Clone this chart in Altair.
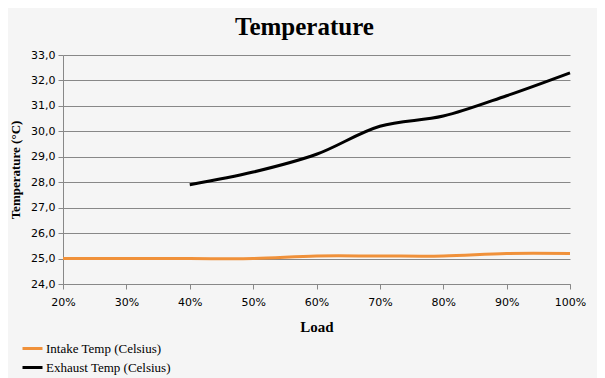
import altair as alt
import pandas as pd

loads = [20, 30, 40, 50, 60, 70, 80, 90, 100]
intake = [25.0, 25.0, 25.0, 25.0, 25.1, 25.1, 25.1, 25.2, 25.2]
exhaust_loads = [40, 50, 60, 70, 80, 90, 100]
exhaust = [27.9, 28.4, 29.1, 30.2, 30.6, 31.4, 32.3]

s1 = "Intake Temp (Celsius)"
s2 = "Exhaust Temp (Celsius)"

rows = [{"Load": l, "Temp": v, "Series": s1} for l, v in zip(loads, intake)]
rows += [{"Load": l, "Temp": v, "Series": s2} for l, v in zip(exhaust_loads, exhaust)]
df = pd.DataFrame(rows)

chart = alt.Chart(df).mark_line(interpolate="catmull-rom", strokeWidth=3).encode(
    x=alt.X("Load:Q", scale=alt.Scale(domain=[20, 100], nice=False),
            axis=alt.Axis(values=loads, labelExpr="datum.value + '%'", title="Load",
                          grid=False, domainColor="#888888", tickColor="#888888",
                          tickSize=5, labelFont="DejaVu Sans", labelFontSize=11,
                          labelColor="#000000", labelPadding=7, labelFlush=False,
                          labelBound=False,
                          titleFont="Liberation Serif", titleFontSize=15,
                          titleFontWeight="bold", titleColor="#000000", titlePadding=12)),
    y=alt.Y("Temp:Q", scale=alt.Scale(domain=[24, 33], nice=False, zero=False),
            axis=alt.Axis(values=[24, 25, 26, 27, 28, 29, 30, 31, 32, 33],
                          labelExpr="replace(format(datum.value, '.1f'), '.', ',')",
                          title="Temperature (°C)", grid=True, gridColor="#888888",
                          gridOpacity=1, domainColor="#888888", tickColor="#888888",
                          tickSize=5, labelFont="DejaVu Sans", labelFontSize=11,
                          labelColor="#000000", labelPadding=3, labelFlush=False,
                          titleFont="Liberation Serif", titleFontSize=13,
                          titleFontWeight="bold", titleColor="#000000", titlePadding=8)),
    color=alt.Color("Series:N", sort=[s1, s2],
                    scale=alt.Scale(domain=[s1, s2], range=["#F0913A", "#000000"]),
                    legend=alt.Legend(title=None, orient="none", legendX=-42, legendY=282,
                                      direction="vertical", symbolType="stroke",
                                      symbolStrokeWidth=3, symbolSize=400,
                                      labelFont="Liberation Serif", labelFontSize=13,
                                      labelColor="#000000", rowPadding=0, labelOffset=2,
                                      padding=0)),
    detail="Series:N",
).properties(
    width=507, height=229,
    title=alt.TitleParams("Temperature", font="Liberation Serif", fontSize=25,
                          fontWeight="bold", color="#000000", anchor="middle",
                          dx=-12, offset=9),
    padding={"left": 55, "top": 47, "right": 27, "bottom": 94},
    autosize=alt.AutoSizeParams(type="none"),
    background="#F5F5F5",
).configure_view(stroke=None)

chart.save("out.html", embed_options={"renderer": "svg", "actions": False})
